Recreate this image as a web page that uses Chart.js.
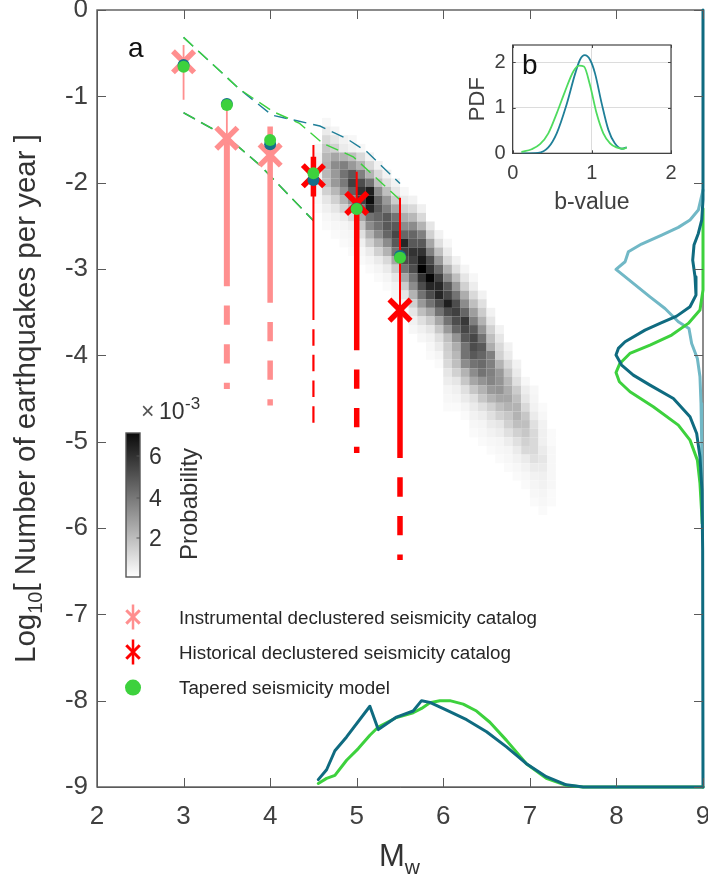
<!DOCTYPE html>
<html><head><meta charset="utf-8">
<style>html,body{margin:0;padding:0;background:#fff;width:708px;height:881px;overflow:hidden}
canvas{position:absolute;display:block}</style>
<script src="https://cdn.jsdelivr.net/npm/chart.js@4"></script></head>
<body>
<canvas id="main" width="708" height="881" style="left:0;top:0"></canvas>
<canvas id="inset" width="230" height="190" style="left:460px;top:30px"></canvas>
<script>
// ---- observed rates
const instMw = [3, 3.5, 4];
const instRate = [-0.6, -1.485, -1.68];
const histMw = [4.5, 5, 5.5];
const histRate = [-1.92, -2.24, -3.476];
const modelMw = [3, 3.5, 4, 4.5, 5, 5.5];
const modelGreen = [-0.657, -1.10, -1.507, -1.89, -2.305, -2.87];
const modelTeal = [-0.637, -1.09, -1.555, -1.97, -2.30, -2.85];
// error bars: thin top/bottom, thick top/bottom, dashed end
const thinTop = [-0.405, -1.1, -1.35, -1.565, -1.873, -2.175];
const thinBottom = [-1.04, -1.485, -1.35, -3.59, -2.24, -3.476];
const thickTop = [null, -1.485, -1.35, -1.70, -2.24, -3.476];
const thickBottom = [null, -3.2, -3.39, -2.16, -3.94, -5.19];
const dashStart = [null, -3.2, -3.39, -3.59, -3.94, -5.19];
const dashEnd = [null, -4.39, -4.58, -4.78, -5.13, -6.37];
// ---- envelopes
const upGreenX = [3, 3.65, 4.04, 4.34, 4.61, 4.96, 5.5];
const upGreenY = [-0.317, -0.92, -1.18, -1.313, -1.545, -1.70, -2.2];
const upTealX = [3, 3.65, 4.02, 4.31, 4.575, 4.88, 5.115, 5.5];
const upTealY = [-0.317, -0.92, -1.217, -1.283, -1.344, -1.487, -1.64, -2.01];
const lowX = [3, 3.5, 3.88, 4.5];
const lowY = [-1.19, -1.468, -1.796, -2.44];
// ---- marginal curves, bottom
const botTealX = [4.556,4.652,4.748,4.883,5.152,5.249,5.46,5.652,5.749,5.845,6.038,6.269,6.5,6.73,6.96,7.19,7.42,7.615,7.81,9];
const botTealY = [-8.915,-8.80,-8.58,-8.42,-8.065,-8.335,-8.19,-8.12,-8.0,-8.02,-8.11,-8.22,-8.36,-8.535,-8.73,-8.88,-8.975,-9,-9,-9];
const botGreenX = [4.556,4.652,4.748,4.883,5.018,5.152,5.249,5.46,5.652,5.749,5.845,5.96,6.076,6.23,6.384,6.538,6.73,6.96,7.19,7.42,7.615,7.81,9];
const botGreenY = [-8.96,-8.90,-8.865,-8.69,-8.555,-8.40,-8.305,-8.195,-8.14,-8.09,-8.025,-8.0,-8.0,-8.04,-8.12,-8.25,-8.46,-8.73,-8.90,-8.98,-9,-9,-9];
// ---- marginal curves, right
const rightLightX = [9,8.946,8.85,8.715,8.523,8.29,8.138,8.10,7.995,8.195,8.388,8.561,8.715,8.838,8.869,8.935,8.965,8.977,8.985,8.992];
const rightLightY = [-2.086,-2.317,-2.433,-2.518,-2.607,-2.711,-2.80,-2.916,-3.005,-3.167,-3.322,-3.457,-3.611,-3.689,-3.862,-4.036,-4.249,-4.557,-5.02,-5.95];
const rightTealX = [9,9,8.985,8.946,8.896,8.881,8.908,8.919,8.85,8.696,8.503,8.33,8.10,8.022,7.995,8.06,8.195,8.388,8.658,8.85,8.927,8.965,8.988,8.996,9];
const rightTealY = [0,-2.2,-2.433,-2.588,-2.723,-2.897,-3.09,-3.302,-3.437,-3.546,-3.63,-3.708,-3.843,-3.92,-3.997,-4.113,-4.229,-4.345,-4.5,-4.712,-4.905,-5.175,-5.56,-6.257,-9];
const rightGreenX = [9,9,8.965,8.83,8.638,8.388,8.155,8.04,7.995,8.034,8.157,8.426,8.715,8.85,8.935,8.965,8.992];
const rightGreenY = [-2.3,-3.244,-3.476,-3.63,-3.765,-3.881,-3.978,-4.094,-4.2,-4.306,-4.422,-4.596,-4.808,-4.982,-5.214,-5.484,-5.95];
// ---- heat map: darkness (percent) per Mw column, from the column's top row downward in 0.1 steps
const heatMw = [4.55,4.65,4.75,4.85,4.95,5.05,5.15,5.25,5.35,5.45,5.55,5.65,5.75,5.85,5.95,6.05,6.15,6.25,6.35,6.45,6.55,6.65,6.75,6.85,6.95,7.05,7.15,7.25];
const heatTop = [-1.6,-1.3,-1.4,-1.5,-1.5,-1.6,-1.7,-1.8,-1.9,-2.0,-2.1,-2.2,-2.3,-2.5,-2.6,-2.7,-2.9,-3.0,-3.1,-3.3,-3.5,-3.7,-3.9,-4.1,-4.3,-4.4,-4.6,-4.9];
const heatDark = [
 [3,5,6,6,5,4,3,2],
 [3,8,15,22,28,30,28,25,18,10,6,3,2],
 [4,10,18,35,45,40,40,28,18,10,5,3,2],
 [5,8,30,50,55,52,42,30,18,8,4,3,2],
 [3,5,25,40,65,75,62,45,30,15,6,4,3,2],
 [3,15,30,50,70,80,75,55,35,22,12,6,3,2],
 [5,15,30,55,88,95,85,55,45,30,18,8,4,2],
 [5,15,25,45,60,65,60,55,45,30,18,8,4,2],
 [5,12,25,40,50,65,65,60,45,30,15,8,4,2],
 [5,10,20,35,55,65,72,65,55,35,20,10,5,3,2],
 [3,8,18,32,45,60,85,75,70,55,35,20,10,5,2],
 [5,15,28,45,60,65,80,75,70,55,45,30,18,10,5,3],
 [6,15,30,50,65,80,90,100,80,70,55,40,25,12,6,3],
 [10,18,35,50,70,80,98,85,70,55,35,20,10,5,3,2],
 [5,12,25,40,58,75,85,85,70,55,35,22,12,8,4,2],
 [3,8,15,30,45,65,72,88,70,55,40,25,20,18,15,10,7,4,3,2],
 [5,12,25,40,55,70,75,70,60,42,32,28,25,18,10,6,4,2],
 [4,10,18,32,45,60,78,72,65,55,55,45,30,22,12,8,4,2],
 [3,7,15,25,38,50,65,72,70,65,55,45,35,22,12,8,5,3,2],
 [5,12,20,30,42,55,65,60,58,55,42,30,22,12,7,4,3,2],
 [5,10,18,25,32,50,50,50,48,40,30,18,12,8,5,3,2],
 [5,10,15,18,30,40,42,42,35,25,18,10,7,4,3,2],
 [5,8,15,22,28,32,35,30,22,18,12,7,4,3,2],
 [5,8,12,20,25,30,30,25,18,12,8,5,3,2],
 [3,7,10,15,22,25,22,18,15,8,5,3,2],
 [3,4,5,8,12,15,15,15,12,8,5,4,3,2],
 [2,3,5,6,6,8,10,8,6,5,4,3,2],
 [2,2,3,3,3,3,3,2,2]
];
// ---- inset b
const bTealX = [0.11,0.32,0.45,0.556,0.68,0.79,0.85,0.91,0.977,1.04,1.124,1.21,1.29,1.38,1.44];
const bTealY = [0,0.01,0.13,0.44,1.07,1.76,2.06,2.16,2.06,1.76,1.10,0.51,0.22,0.10,0.13];
const bGreenX = [0.11,0.24,0.345,0.45,0.556,0.66,0.766,0.84,0.90,0.977,1.06,1.145,1.23,1.31,1.4,1.44];
const bGreenY = [0.03,0.09,0.20,0.44,0.88,1.36,1.80,1.93,1.91,1.5,0.88,0.44,0.22,0.13,0.10,0.13];
// ---- legend & labels
const legendLabels = ['Instrumental declustered seismicity catalog','Historical declustered seismicity catalog','Tapered seismicity model'];
const legendKeyX = [2.416, 2.416, 2.416];
const legendKeyY = [-7.03, -7.436, -7.848];
const barTicks = [6, 4, 2];

const PINK='#FF8F8F', RED='#FF0000', GREEN='#3DD13D', TEAL='#0F6B80', LIGHT='#71B8C6', DTEAL='#1F7F98';
const FONT='"Liberation Sans", Arial, sans-serif', INK='#404040';
const pts=(xs,ys)=>xs.map((x,i)=>({x,y:ys[i]}));
const line=(xs,ys,color,width,extra={})=>Object.assign({data:pts(xs,ys),showLine:true,borderColor:color,borderWidth:width,pointRadius:0,fill:false,tension:0},extra);
const seg=(x,a,b,color,width,extra)=>line([x,x],[a,b],color,width,extra);

const ds=[];
// legend keys
ds.push({data:[{x:legendKeyX[2],y:legendKeyY[2]}],pointStyle:'circle',pointRadius:8,backgroundColor:GREEN,borderWidth:0});
ds.push({data:[{x:legendKeyX[1],y:legendKeyY[1]}],pointStyle:'crossRot',pointRadius:9.5,borderColor:RED,borderWidth:3,backgroundColor:RED});
ds.push({data:[{x:legendKeyX[0],y:legendKeyY[0]}],pointStyle:'crossRot',pointRadius:9.5,borderColor:PINK,borderWidth:3,backgroundColor:PINK});
ds.push(seg(legendKeyX[1],legendKeyY[1]+0.145,legendKeyY[1]-0.145,RED,2.5));
ds.push(seg(legendKeyX[0],legendKeyY[0]+0.145,legendKeyY[0]-0.145,PINK,2.5));
// model dots
ds.push({data:pts(modelMw,modelGreen),pointStyle:'circle',pointRadius:6,backgroundColor:GREEN,borderWidth:0});
ds.push({data:pts(modelMw,modelTeal),pointStyle:'circle',pointRadius:6,backgroundColor:'#146F8A',borderWidth:0});
// observed crosses
ds.push({data:pts(instMw,instRate),pointStyle:'crossRot',pointRadius:15,borderColor:PINK,borderWidth:5.5,backgroundColor:PINK});
ds.push({data:pts(histMw,histRate),pointStyle:'crossRot',pointRadius:15,borderColor:RED,borderWidth:5.5,backgroundColor:RED});
// error bars
modelMw.forEach((m,i)=>{
  const c=i<3?PINK:RED;
  const thin=c===PINK?1.8:2;
  ds.push(seg(m,thinTop[i],thinBottom[i],c,thin));
  if(thickTop[i]===null) return;
  ds.push(seg(m,thickTop[i],thickBottom[i],c,i===1?6:5.5));
  if(i===3) ds.push(seg(m,dashStart[i],dashEnd[i],c,2.2,{borderDash:[16.5,9.2],borderDashOffset:16.5}));
  else ds.push(seg(m,dashStart[i],dashEnd[i],c,i===1?6:5.5,{borderDash:[19.3,19.3],borderDashOffset:19.3}));
});
// envelopes
const envDash={borderDash:[13,7]};
ds.push(line(upGreenX,upGreenY,GREEN,1.4,envDash));
ds.push(line(lowX,lowY,GREEN,1.2,envDash));
ds.push(line(upTealX,upTealY,DTEAL,1.4,envDash));
ds.push(line(lowX,lowY,'#1F7F68',1.6,envDash));
// marginal curves
const cur={clip:false,borderCapStyle:'round',borderJoinStyle:'round'};
ds.push(line(botTealX,botTealY,TEAL,3,cur));
ds.push(line(botGreenX,botGreenY,GREEN,3,cur));
ds.push(line(rightTealX,rightTealY,TEAL,3,cur));
ds.push(line(rightGreenX,rightGreenY,GREEN,3,cur));
ds.push(line(rightLightX,rightLightY,LIGHT,3,cur));
// heat map
const heatPts=[],heatCol=[];
heatMw.forEach((m,c)=>heatDark[c].forEach((d,r)=>{
  heatPts.push({x:m,y:heatTop[c]-0.1*r});
  const g=Math.round(255*(1-d/100));
  heatCol.push(`rgb(${g},${g},${g})`);
}));
ds.push({data:heatPts,pointStyle:'rect',pointRadius:6.15,backgroundColor:heatCol,borderWidth:0});

function innerTicks(len,color,bw){return {id:'innerTicks',afterDraw(ch){
  const {ctx,chartArea:a,scales:{x,y}}=ch;
  ctx.save();ctx.strokeStyle=color;ctx.lineWidth=1;ctx.beginPath();
  x.ticks.forEach(t=>{const p=Math.round(x.getPixelForValue(t.value))+.5;ctx.moveTo(p,a.bottom);ctx.lineTo(p,a.bottom-len);ctx.moveTo(p,a.top);ctx.lineTo(p,a.top+len);});
  y.ticks.forEach(t=>{const p=Math.round(y.getPixelForValue(t.value))+.5;ctx.moveTo(a.left,p);ctx.lineTo(a.left+len,p);ctx.moveTo(a.right,p);ctx.lineTo(a.right-len,p);});
  ctx.stroke();ctx.restore();
},beforeDatasetsDraw(ch){
  const {ctx,chartArea:a}=ch;
  ctx.save();ctx.strokeStyle=color;ctx.lineWidth=bw;ctx.strokeRect(a.left,a.top,a.right-a.left,a.bottom-a.top);ctx.restore();
}};}

const annotate={id:'annotate',afterDraw(ch){
  const c=ch.ctx;c.save();c.textBaseline='alphabetic';c.fillStyle='#262626';
  // panel letter
  c.font='28px '+FONT;c.fillStyle='#111';c.fillText('a',128,57);
  // legend text
  c.font='18.8px '+FONT;c.fillStyle='#262626';
  legendLabels.forEach((s,i)=>c.fillText(s,179,[624,659,694][i]));
  // y title
  c.save();c.translate(35,663);c.rotate(-Math.PI/2);c.fillStyle='#333';
  c.font='29.5px '+FONT;let w=0;
  c.fillText('Log',0,0);w=c.measureText('Log').width;
  c.font='20px '+FONT;c.fillText('10',w,7);w+=c.measureText('10').width;
  c.font='29.5px '+FONT;c.fillText('[ Number of earthquakes per year ]',w,0);c.restore();
  // x title
  c.fillStyle='#333';c.font='31px '+FONT;c.fillText('M',379,866);
  const mw=c.measureText('M').width;c.font='21px '+FONT;c.fillText('w',379+mw,874);
  // colour bar
  const g=c.createLinearGradient(0,433,0,577);g.addColorStop(0,'#0a0a0a');g.addColorStop(1,'#ffffff');
  c.fillStyle=g;c.fillRect(126,433,14,144);
  c.strokeStyle='#555';c.lineWidth=1.4;c.strokeRect(126,433,14,144);
  c.fillStyle='#333';c.font='23px '+FONT;c.textAlign='left';
  barTicks.forEach((t,i)=>{const y=[456,498,538][i];c.fillText(String(t),149,y+8);
    c.beginPath();c.moveTo(136.5,y);c.lineTo(140,y);c.strokeStyle='#555';c.lineWidth=1;c.stroke();});
  c.fillStyle='#555';c.font='23px '+FONT;c.fillText('×',141,419);
  c.fillStyle='#333';c.font='23px '+FONT;c.fillText('10',159,419);
  c.font='17px '+FONT;c.fillText('-3',185,409);
  c.save();c.translate(197,560);c.rotate(-Math.PI/2);c.font='24px '+FONT;c.fillStyle='#333';c.fillText('Probability',0,0);c.restore();
  c.restore();
}};

function noPadX(s,h){s.height=h;s.paddingLeft=0;s.paddingRight=0;}
function noPadY(s,w){s.width=w;s.paddingTop=0;s.paddingBottom=0;}

new Chart(document.getElementById('main'),{type:'scatter',
  data:{datasets:ds},
  plugins:[innerTicks(9,'#5a5a5a',1.4),annotate],
  options:{responsive:false,animation:false,events:[],
    layout:{autoPadding:false,padding:{top:10,right:5,left:0,bottom:0}},
    plugins:{legend:{display:false},tooltip:{enabled:false}},
    scales:{
      x:{type:'linear',min:2,max:9,afterFit(s){noPadX(s,94);},
        grid:{display:false,drawTicks:false},border:{color:'#5a5a5a',width:1},
        ticks:{stepSize:1,color:INK,padding:14,maxRotation:0,font:{family:FONT,size:26}}},
      y:{type:'linear',min:-9,max:0,afterFit(s){noPadY(s,97);},
        grid:{display:false,drawTicks:false},border:{color:'#5a5a5a',width:1},
        ticks:{stepSize:1,color:INK,padding:9,font:{family:FONT,size:26}}}
    }}});

const bLetter={id:'bLetter',afterDraw(ch){const c=ch.ctx;c.save();c.font='28px '+FONT;c.fillStyle='#111';c.fillText('b',62,44);c.restore();}};
new Chart(document.getElementById('inset'),{type:'scatter',
  data:{datasets:[
    line(bGreenX,bGreenY,'#4FDB5F',1.8,{cubicInterpolationMode:'monotone'}),
    line(bTealX,bTealY,DTEAL,1.8,{cubicInterpolationMode:'monotone'})
  ]},
  plugins:[innerTicks(3,'#444',1.2),bLetter],
  options:{responsive:false,animation:false,events:[],
    layout:{autoPadding:false,padding:{top:15,right:19,left:0,bottom:0}},
    plugins:{legend:{display:false},tooltip:{enabled:false}},
    scales:{
      x:{type:'linear',min:0,max:2,afterFit(s){noPadX(s,66.7);},
        grid:{color:'#dcdcdc',drawTicks:false},border:{color:'#444'},
        title:{display:true,text:'b-value',color:INK,padding:{top:0,bottom:4},font:{family:FONT,size:23}},
        ticks:{stepSize:1,color:INK,padding:8,maxRotation:0,font:{family:FONT,size:20}}},
      y:{type:'linear',min:0,max:2.385,afterFit(s){noPadY(s,52.7);},
        afterBuildTicks(s){s.ticks=[{value:0},{value:1},{value:2}];},
        grid:{color:'#dcdcdc',drawTicks:false},border:{color:'#444'},
        title:{display:true,text:'PDF',color:INK,padding:{top:5,bottom:0},font:{family:FONT,size:22}},
        ticks:{color:INK,padding:7,font:{family:FONT,size:20}}}
    }}});
</script></body></html>
